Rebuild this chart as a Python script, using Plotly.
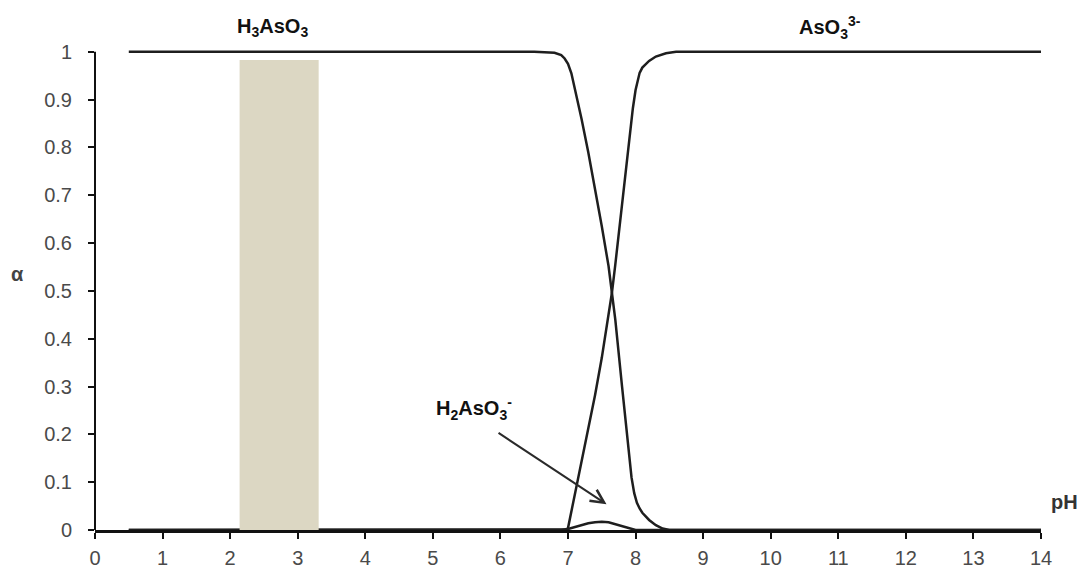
import plotly.graph_objects as go

# pH grid points and species fractions
ph_h3 = [0.5, 6.5, 6.8, 6.9, 6.95, 7.0, 7.05, 7.1, 7.2, 7.3, 7.4, 7.5, 7.6, 7.65, 7.7, 7.8, 7.9, 7.94,
         7.98, 8.02, 8.06, 8.1, 8.2, 8.3, 8.4, 8.5, 14.0]
a_h3 = [1.0, 1.0, 0.998, 0.993, 0.986, 0.975, 0.955, 0.925, 0.86, 0.79, 0.715, 0.635, 0.552, 0.5, 0.44,
        0.3, 0.16, 0.11, 0.077, 0.057, 0.045, 0.036, 0.021, 0.01, 0.003, 0.0, 0.0]

ph_aso3 = [0.5, 6.9, 6.96, 7.0, 7.05, 7.1, 7.2, 7.3, 7.4, 7.5, 7.6, 7.65, 7.7, 7.8, 7.87, 7.92, 7.96,
           8.0, 8.03, 8.06, 8.1, 8.2, 8.3, 8.45, 8.6, 14.0]
a_aso3 = [0.0, 0.0, 0.001, 0.004, 0.038, 0.072, 0.14, 0.21, 0.282, 0.36, 0.445, 0.496, 0.555, 0.68,
          0.77, 0.835, 0.882, 0.92, 0.942, 0.956, 0.967, 0.981, 0.99, 0.997, 1.0, 1.0]

ph_h2 = [0.5, 6.9, 7.0, 7.1, 7.2, 7.3, 7.4, 7.5, 7.6, 7.7, 7.8, 7.9, 8.0, 14.0]
a_h2 = [0.0, 0.0, 0.002, 0.006, 0.01, 0.014, 0.016, 0.017, 0.016, 0.012, 0.007, 0.003, 0.0, 0.0]

x_ticks = list(range(0, 15))
y_ticks = [0, 0.1, 0.2, 0.3, 0.4, 0.5, 0.6, 0.7, 0.8, 0.9, 1]
y_tick_text = ["0", "0.1", "0.2", "0.3", "0.4", "0.5", "0.6", "0.7", "0.8", "0.9", "1"]

band_x = [2.14, 3.31]
band_top = 0.983

FONT = "Liberation Sans, Arial, sans-serif"
line_col = "#1e1e1e"
tick_font = dict(family=FONT, size=20, color="#4a4a4a")
lab_font = dict(family=FONT, size=20, color="#111111")

fig = go.Figure()
for xs, ys in [(ph_h3, a_h3), (ph_aso3, a_aso3), (ph_h2, a_h2)]:
    fig.add_trace(go.Scatter(x=xs, y=ys, mode="lines",
                             line=dict(color=line_col, width=2.5),
                             showlegend=False, hoverinfo="skip", cliponaxis=False))

fig.add_shape(type="rect", x0=band_x[0], x1=band_x[1], y0=0, y1=band_top,
              xref="x", yref="y", fillcolor="#dcd7c3", line=dict(width=0), layer="above")

# y axis line from 0 to 1
fig.add_shape(type="line", xref="paper", yref="y", x0=0, x1=0, y0=0, y1=1,
              line=dict(color="#111111", width=2), layer="above")

common = dict(showarrow=False, xanchor="center", yanchor="middle")
fig.add_annotation(x=0.188, y=1.04, text="<b>H<sub>3</sub>AsO<sub>3</sub></b>",
                   font=lab_font, xref="paper", yref="paper", **common)
fig.add_annotation(x=0.777, y=1.04, text="<b>AsO<sub>3</sub><sup>3-</sup></b>",
                   font=lab_font, xref="paper", yref="paper", **common)
fig.add_annotation(x=5.61, y=0.255, text="<b>H<sub>2</sub>AsO<sub>3</sub><sup>-</sup></b>",
                   font=lab_font, xref="x", yref="y", **common)
fig.add_annotation(x=7.57, y=0.054, ax=5.95, ay=0.205, axref="x", ayref="y",
                   xref="x", yref="y", text="", showarrow=True,
                   arrowhead=5, arrowsize=1.3, arrowwidth=2, arrowcolor="#2a2a2a")
fig.add_annotation(x=1.025, y=0.058, text="<b>pH</b>",
                   font=dict(family=FONT, size=20, color="#333333"),
                   xref="paper", yref="paper", **common)
fig.add_annotation(x=-0.0814, y=0.53, text="<b>α</b>",
                   font=dict(family=FONT, size=20, color="#444444"),
                   xref="paper", yref="paper", **common)

fig.update_xaxes(range=[0, 14], tickvals=x_ticks, ticks="outside", ticklen=6, tickwidth=2,
                 tickcolor="#111111", showline=True, linecolor="#111111", linewidth=2.5,
                 showgrid=False, zeroline=False, tickfont=tick_font, ticklabelstandoff=2,
                 automargin=False)
fig.update_yaxes(range=[0, 1.01], tickvals=y_ticks, ticktext=y_tick_text, ticks="outside",
                 ticklen=6, tickwidth=2, tickcolor="#111111", showline=False,
                 showgrid=False, zeroline=False, tickfont=tick_font, ticklabelstandoff=12,
                 automargin=False)

fig.update_layout(width=1083, height=569, margin=dict(l=95, r=42, t=47, b=39),
                  plot_bgcolor="white", paper_bgcolor="white")

fig.write_html("out.html")
